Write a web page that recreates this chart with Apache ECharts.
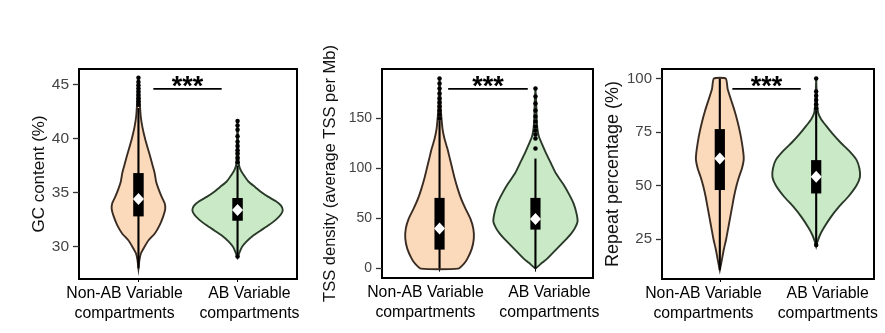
<!DOCTYPE html>
<html>
<head>
<meta charset="utf-8">
<script src="https://cdn.jsdelivr.net/npm/echarts@6/dist/echarts.min.js"></script>
<style>
html,body{margin:0;padding:0;background:#fff;}
#chart{width:885px;height:333px;}
</style>
</head>
<body>
<div id="chart"></div>
<script>
// ---------------- DATA ----------------
const categories = ['Non-AB Variable\ncompartments', 'AB Variable\ncompartments'];
const yNames = ['GC content (%)', 'TSS density (average TSS per Mb)', 'Repeat percentage (%)'];
const gcTicks = [30, 35, 40, 45];
const tssTicks = [0, 50, 100, 150];
const repTicks = [25, 50, 75, 100];

// GC content: density profiles (value, relative density)
const gcNonAbVals = [28.0,28.8,29.4,30.0,30.6,31.2,32.0,32.8,33.5,34.0,34.6,35.3,36.0,36.8,37.5,38.2,39.0,40.0,41.0,42.0,43.0,44.0,45.0,45.6];
const gcNonAbDens = [0,1.0,2.5,6,10,16,21,24.5,26.5,26,23,20,17.5,16,14,12,9.5,6.5,4,2.3,1.5,1,0.6,0];
const gcAbVals = [29.0,29.3,29.7,30.0,30.5,31.0,31.5,32.0,32.5,33.0,33.4,33.8,34.2,34.6,35.0,35.5,36.0,36.5,37.0,37.5,38.0,39.0,40.0,41.6];
const gcAbDens = [0,1.2,3,4.5,9,15,23,31,38,43,44.7,43,38,30.5,24,17.5,11,7,3.5,1.5,1,0.7,0.5,0];
// box stats: [whiskerLow, q1, q3, whiskerHigh]
const gcNonAbBox = [28.0, 32.8, 36.8, 42.8];
const gcAbBox = [29.3, 32.4, 34.5, 37.5];
const gcMeans = [34.4, 33.4];
const gcNonAbOut = [43.1,43.4,43.7,44.0,44.3,44.6,44.9,45.2,45.6];
const gcAbOut = [29.1,37.8,38.2,38.6,38.9,39.3,39.7,40.2,40.8,41.2,41.6];
const gcSigX = [1.15, 1.84];
const gcSigY = 44.57;

// TSS density
const tssNonAbVals = [0,5,10,20,30,40,50,60,70,80,90,100,110,120,130,140,150,160,175,190];
const tssNonAbDens = [19,25,28.5,33,35,34.5,31.5,26.5,22,18.5,15.5,13,10.5,8,5,3,2,1.2,0.7,0];
const tssAbVals = [0,3,6,10,15,20,25,30,35,40,47,55,65,75,85,95,105,115,125,132,140,150,165,180];
const tssAbDens = [0,3.5,7,12,17,22,27,32,36.5,40,43,42,39,34,28,21,16,11,6.5,3.5,2,1.2,0.8,0];
const tssNonAbBox = [0, 19, 70.7, 148];
const tssAbBox = [0, 39, 70.7, 110];
const tssMeans = [40, 49.7];
const tssNonAbOut = [150,154,158,162,166,170,175,180,185,190];
const tssAbOut = [120,130,134,138,142,147,152,158,165,172,180];
const tssSigX = [1.09, 1.92];
const tssSigY = 179.7;

// Repeat percentage
const repNonAbVals = [10.5,15,20,25,30,35,40,45,50,54,58,62,65,70,75,80,85,90,95,100];
const repNonAbDens = [0,2,4,6.5,8.5,10.5,12.5,14.5,17,19.5,22.5,24.3,24,22.5,20.5,18,15,11.5,8,6];
const repAbVals = [21.5,24,27,30,35,40,45,50,54,58,62,66,70,74,78,81,84,88,92,100];
const repAbDens = [0,1.5,4,7.5,14.5,23,33,41,44.5,44,41,34,25,17,10,5,2,1,0.6,0];
const repNonAbBox = [10.5, 47.9, 76.4, 100];
const repAbBox = [23, 46.3, 61.9, 85];
const repMeans = [62.7, 54.1];
const repNonAbOut = [];
const repAbOut = [22.2, 86, 88, 90, 92, 94, 100];
const repSigX = [1.13, 1.84];
const repSigY = 95.2;

// ---------------- STYLE / LAYOUT ----------------
const FONT = 'Liberation Sans, Arial, sans-serif';
const fills = ['#FBD9BB', '#C9E9C7'];
const strokes = ['#3a2c22', '#2a3a29'];
const densScale = 1 / 98;      // density -> x-axis units
const boxHalf = 0.053;
const labelPos = [[0.86, 2.12], [0.853, 2.145], [0.83, 2.12]];
const grids = [
  {left: 79, top: 69, width: 218, height: 210},
  {left: 382, top: 69, width: 211, height: 209},
  {left: 662, top: 69, width: 212, height: 210}
];
const yRanges = [[27.02, 46.41], [-9.4, 199.6], [6.3, 104.5]];
const nameGaps = [31, 43, 40];
const nameSizes = [17, 16.5, 18];
const tickSizes = [15.5, 14, 15];

const panels = [
  {violins: [[gcNonAbVals, gcNonAbDens, gcNonAbBox, gcNonAbOut], [gcAbVals, gcAbDens, gcAbBox, gcAbOut]], means: gcMeans, ticks: gcTicks, sigX: gcSigX, sigY: gcSigY},
  {violins: [[tssNonAbVals, tssNonAbDens, tssNonAbBox, tssNonAbOut], [tssAbVals, tssAbDens, tssAbBox, tssAbOut]], means: tssMeans, ticks: tssTicks, sigX: tssSigX, sigY: tssSigY},
  {violins: [[repNonAbVals, repNonAbDens, repNonAbBox, repNonAbOut], [repAbVals, repAbDens, repAbBox, repAbOut]], means: repMeans, ticks: repTicks, sigX: repSigX, sigY: repSigY}
];

const series = [];
panels.forEach((p, pi) => {
  p.violins.forEach((v, vi) => {
    const pos = vi + 1;
    const [vals, dens, box, outl] = v;
    // violin body
    series.push({
      type: 'custom', xAxisIndex: pi, yAxisIndex: pi, z: 1, silent: true,
      data: [[pos, box[1]]],
      renderItem: (params, api) => {
        const right = vals.map((y, i) => api.coord([pos + dens[i] * densScale, y]));
        const left = vals.map((y, i) => api.coord([pos - dens[i] * densScale, y])).reverse();
        return {type: 'polygon', shape: {points: right.concat(left), smooth: 0.2},
          style: {fill: fills[vi], stroke: strokes[vi], lineWidth: 1.9}};
      }
    });
    // whisker + box
    series.push({
      type: 'custom', xAxisIndex: pi, yAxisIndex: pi, z: 3, silent: true,
      data: [[pos, box[0], box[1], box[2], box[3]]],
      renderItem: (params, api) => {
        const lo = api.coord([pos, box[0]]);
        const hi = api.coord([pos, box[3]]);
        const a = api.coord([pos - boxHalf, box[2]]);
        const b = api.coord([pos + boxHalf, box[1]]);
        return {type: 'group', children: [
          {type: 'line', shape: {x1: lo[0], y1: lo[1], x2: hi[0], y2: hi[1]}, style: {stroke: '#000', lineWidth: 2.1}},
          {type: 'rect', shape: {x: a[0], y: a[1], width: b[0] - a[0], height: b[1] - a[1]}, style: {fill: '#000'}}
        ]};
      }
    });
    // outliers
    if (outl.length) {
      series.push({
        type: 'scatter', xAxisIndex: pi, yAxisIndex: pi, z: 3, silent: true,
        symbol: 'circle', symbolSize: 4.5, itemStyle: {color: '#000', opacity: 1},
        data: outl.map(y => [pos, y])
      });
    }
  });
  // means (diamonds)
  series.push({
    type: 'scatter', xAxisIndex: pi, yAxisIndex: pi, z: 5, silent: true,
    symbol: 'diamond', symbolSize: [11, 12], itemStyle: {color: '#fff', opacity: 1},
    data: p.means.map((m, i) => [i + 1, m])
  });
  // significance bar
  series.push({
    type: 'custom', xAxisIndex: pi, yAxisIndex: pi, z: 5, silent: true,
    data: [[p.sigX[0], p.sigY]],
    renderItem: (params, api) => {
      const a = api.coord([p.sigX[0], p.sigY]);
      const b = api.coord([p.sigX[1], p.sigY]);
      return {type: 'group', children: [
        {type: 'line', shape: {x1: a[0], y1: a[1], x2: b[0], y2: b[1]}, style: {stroke: '#000', lineWidth: 1.8}},
        {type: 'text', x: (a[0] + b[0]) / 2, y: a[1] + 12,
         style: {text: '***', fontSize: 27, fontWeight: 'bold', fontFamily: FONT, fill: '#000', align: 'center', verticalAlign: 'bottom'}}
      ]};
    }
  });
});

const option = {
  animation: false,
  backgroundColor: '#fff',
  grid: grids.map(g => Object.assign({show: true, borderColor: '#000', borderWidth: 2, backgroundColor: 'transparent'}, g)),
  xAxis: grids.map((g, i) => ({
    type: 'value', gridIndex: i, min: 0.4, max: 2.6,
    splitLine: {show: false},
    axisLine: {show: false},
    axisTick: {show: true, length: 3, lineStyle: {color: '#000', width: 1}, customValues: [1, 2]},
    axisLabel: {
      customValues: labelPos[i], margin: 5, fontSize: 15.8, lineHeight: 20, color: '#000', fontFamily: FONT,
      formatter: v => (v < 1.5 ? categories[0] : categories[1])
    }
  })),
  yAxis: grids.map((g, i) => ({
    type: 'value', gridIndex: i, min: yRanges[i][0], max: yRanges[i][1],
    name: yNames[i], nameLocation: 'middle', nameGap: nameGaps[i],
    nameTextStyle: {fontSize: nameSizes[i], color: '#111', fontFamily: FONT},
    splitLine: {show: false},
    axisLine: {show: false},
    axisTick: {show: true, length: 6, lineStyle: {color: '#333', width: 1.3}, customValues: panels[i].ticks},
    axisLabel: {customValues: panels[i].ticks, margin: 10, fontSize: tickSizes[i], color: '#444', fontFamily: FONT}
  })),
  series: series
};

const chart = echarts.init(document.getElementById('chart'), null, {renderer: 'canvas'});
chart.setOption(option);
</script>
</body>
</html>
